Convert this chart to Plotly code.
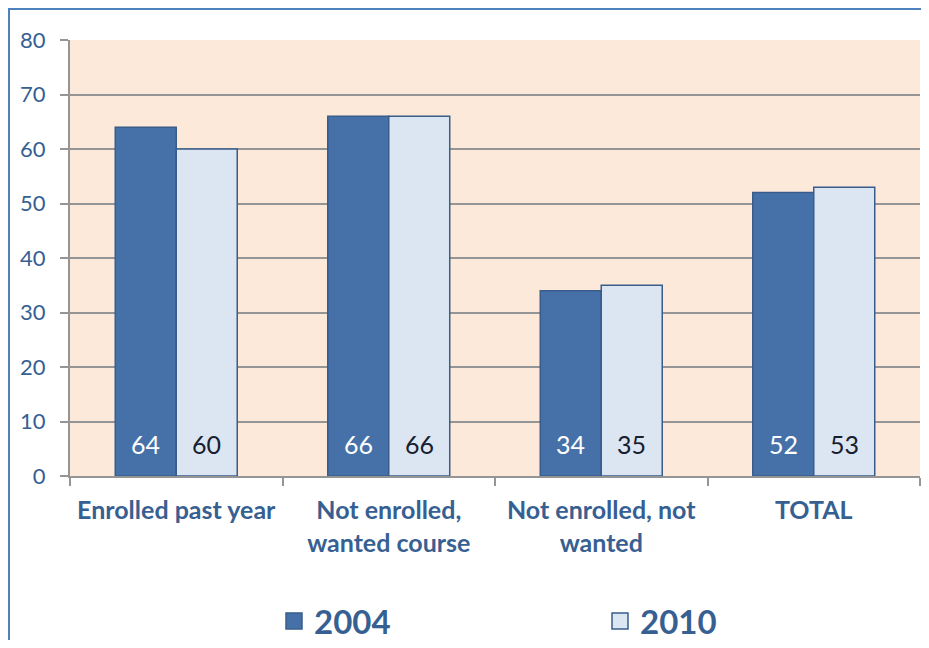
import plotly.graph_objects as go

categories = ["Enrolled past year", "Not enrolled,<br>wanted course", "Not enrolled, not<br>wanted", "TOTAL"]
series_names = ["2004", "2010"]
values_2004 = [64, 66, 34, 52]
values_2010 = [60, 66, 35, 53]
y_ticks = [0, 10, 20, 30, 40, 50, 60, 70, 80]

DARK = "#4571A8"
LIGHT = "#DCE6F2"
EDGE = "#385D8A"
TXT = "#376092"
GRID = "#959595"
FONT = "Lato"

# the page body has an 8px margin; size the figure so it fits the window
OFF = 8
W, H = 929 - 2 * OFF, 648 - 2 * OFF
ML, MT = 70 - OFF, 40 - OFF
MR = W - (920 - OFF)
MB = H - (476 - OFF)
PW, PH = W - ML - MR, H - MT - MB


def px_x(sx):
    return (sx - OFF - ML) / PW


def px_y(sy):
    return (H - MB - (sy - OFF)) / PH


fig = go.Figure()
fig.add_trace(go.Bar(x=categories, y=values_2004, name=series_names[0],
                     marker=dict(color=DARK, line=dict(color=EDGE, width=1.5)),
                     showlegend=False, legendgroup="a"))
fig.add_trace(go.Bar(x=categories, y=values_2010, name=series_names[1],
                     marker=dict(color=LIGHT, line=dict(color=EDGE, width=1.5)),
                     showlegend=False, legendgroup="b"))
# legend entries with larger square swatches
fig.add_trace(go.Scatter(x=[None], y=[None], mode="markers", name=series_names[0],
                         marker=dict(symbol="square", size=16, color=DARK, line=dict(color=EDGE, width=1.5)),
                         legendgroup="a"))
fig.add_trace(go.Scatter(x=[None], y=[None], mode="markers", name=series_names[1],
                         marker=dict(symbol="square", size=16, color=LIGHT, line=dict(color=EDGE, width=1.5)),
                         legendgroup="b"))

annotations = []
for cat, v in zip(categories, values_2004):
    annotations.append(dict(x=cat, y=0, xref="x", yref="y", text=str(v), showarrow=False,
                            xshift=-30.5, yshift=32, font=dict(family=FONT, size=25, color="white")))
for cat, v in zip(categories, values_2010):
    annotations.append(dict(x=cat, y=0, xref="x", yref="y", text=str(v), showarrow=False,
                            xshift=30.5, yshift=32, font=dict(family=FONT, size=25, color="#17202E")))

fig.update_layout(
    width=W, height=H,
    margin=dict(l=ML, r=MR, t=MT, b=MB, autoexpand=False),
    paper_bgcolor="white",
    plot_bgcolor="#FDE9D9",
    barmode="group",
    bargap=0.426,
    bargroupgap=0,
    font=dict(family=FONT, color=TXT),
    annotations=annotations,
    legend=dict(orientation="h", x=px_x(274), xanchor="left",
                y=px_y(621), yanchor="middle",
                font=dict(family=FONT, size=33, color=TXT, weight="bold"),
                entrywidth=281, entrywidthmode="pixels", bgcolor="rgba(0,0,0,0)"),
    shapes=[
        dict(type="rect", xref="paper", yref="paper",
             x0=px_x(9), x1=px_x(960), y0=px_y(690), y1=px_y(9),
             line=dict(color="#4F81BD", width=2), layer="below"),
    ],
)
fig.update_xaxes(
    type="category", automargin=False,
    showline=True, linecolor=GRID, linewidth=2,
    ticks="outside", tickson="boundaries", ticklen=8, tickcolor=GRID, tickwidth=2,
    showgrid=False,
    tickfont=dict(family=FONT, size=25, color=TXT, weight="bold"),
    ticklabelstandoff=11,
)
fig.update_yaxes(
    range=[0, 80], tickvals=y_ticks, automargin=False,
    showline=True, linecolor=GRID, linewidth=2,
    ticks="outside", ticklen=8, tickcolor=GRID, tickwidth=2,
    showgrid=True, gridcolor=GRID, gridwidth=2,
    zeroline=False,
    tickfont=dict(family=FONT, size=22, color=TXT),
    ticklabelstandoff=10,
)

fig.write_html("out.html")
